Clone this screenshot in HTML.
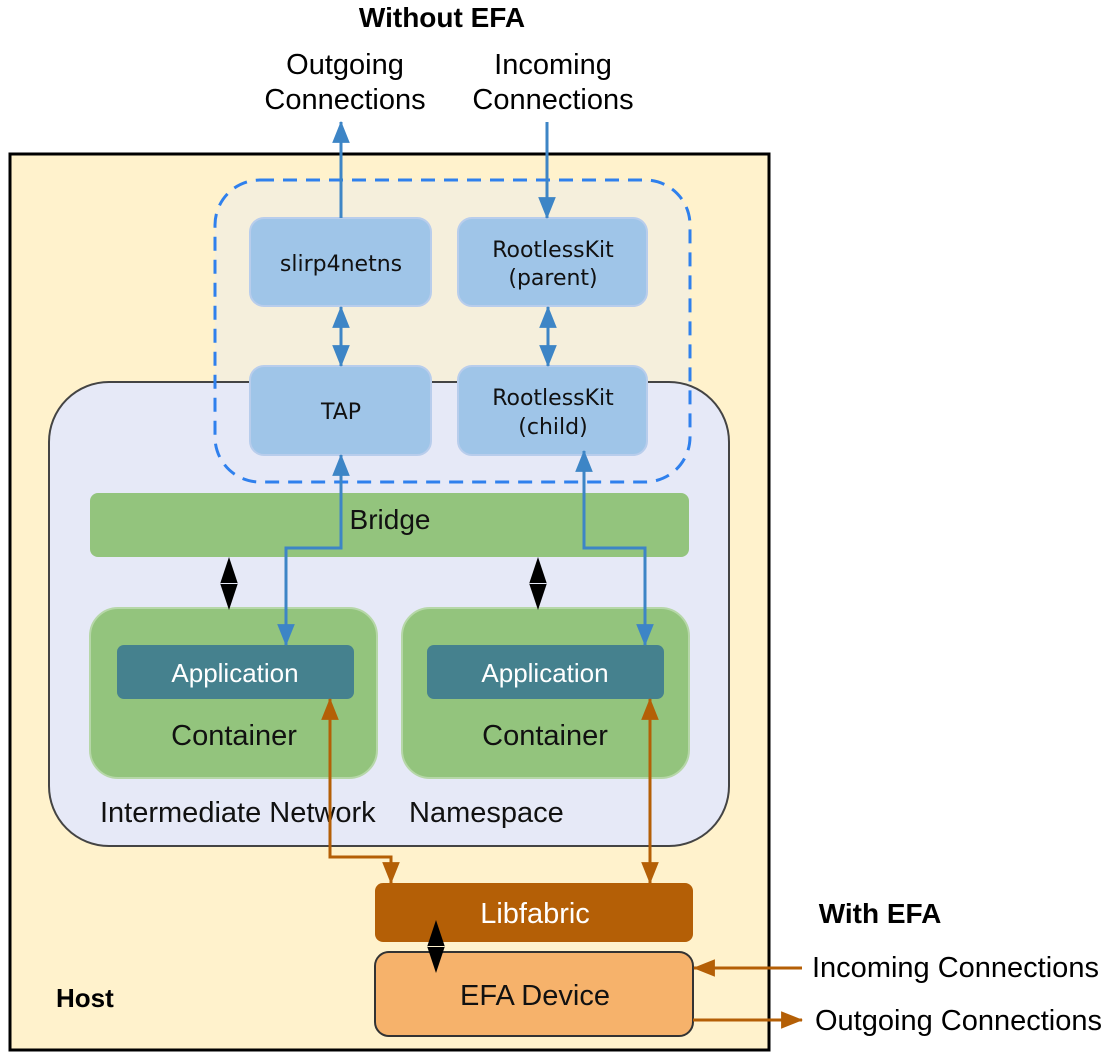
<!DOCTYPE html>
<html><head><meta charset="utf-8"><style>
html,body{margin:0;padding:0;background:#fff}
svg{display:block}
text{font-family:"Liberation Sans",sans-serif}
</style></head><body>
<svg width="1111" height="1059" viewBox="0 0 1111 1059" xmlns="http://www.w3.org/2000/svg">
<defs>
<marker id="ab" viewBox="0 0 10 10" refX="9.5" refY="5" markerWidth="22" markerHeight="22" orient="auto-start-reverse" markerUnits="userSpaceOnUse"><path d="M0,1L10,5L0,9z" fill="#3d85c6"/></marker>
<marker id="ao" viewBox="0 0 10 10" refX="9.5" refY="5" markerWidth="22" markerHeight="22" orient="auto-start-reverse" markerUnits="userSpaceOnUse"><path d="M0,1L10,5L0,9z" fill="#b45f06"/></marker>
</defs>
<rect x="0" y="0" width="1111" height="1059" fill="#fff"/>
<rect x="10" y="154" width="759" height="896" fill="#fff2cc" stroke="#000" stroke-width="3"/>
<rect x="215" y="180" width="475" height="302" rx="45" fill="#f5efdc"/>
<rect x="49" y="382" width="680" height="464" rx="60" fill="#e6e9f7" stroke="#444" stroke-width="2"/>
<rect x="215" y="180" width="475" height="302" rx="45" fill="none" stroke="#2f80ed" stroke-width="3" stroke-dasharray="14,9"/>

<g fill="#9fc5e8" stroke="#b8cdec" stroke-width="2">
<rect x="250" y="218" width="181" height="88" rx="14"/>
<rect x="458" y="218" width="189" height="88" rx="14"/>
<rect x="250" y="366" width="181" height="89" rx="14"/>
<rect x="458" y="366" width="189" height="89" rx="14"/>
</g>
<g font-size="22" text-anchor="middle" fill="#111">
<text x="341" y="271" style="font-family:'DejaVu Sans',sans-serif">slirp4netns</text>
<text x="553" y="257" style="font-family:'DejaVu Sans',sans-serif">RootlessKit</text>
<text x="553" y="285" style="font-family:'DejaVu Sans',sans-serif">(parent)</text>
<text x="341" y="419" style="font-family:'DejaVu Sans',sans-serif">TAP</text>
<text x="553" y="405" style="font-family:'DejaVu Sans',sans-serif">RootlessKit</text>
<text x="553" y="434" style="font-family:'DejaVu Sans',sans-serif">(child)</text>
</g>

<rect x="90" y="493" width="599" height="64" rx="8" fill="#93c47d"/>
<text x="390" y="529" font-size="28" text-anchor="middle" fill="#111">Bridge</text>
<rect x="90" y="608" width="287" height="170" rx="28" fill="#93c47d" stroke="#b6d7a8" stroke-width="2"/>
<rect x="402" y="608" width="287" height="170" rx="28" fill="#93c47d" stroke="#b6d7a8" stroke-width="2"/>
<rect x="117" y="645" width="237" height="54" rx="7" fill="#45818e"/>
<rect x="427" y="645" width="237" height="54" rx="7" fill="#45818e"/>
<text x="235" y="682" font-size="26" text-anchor="middle" fill="#fff">Application</text>
<text x="545" y="682" font-size="26" text-anchor="middle" fill="#fff">Application</text>
<text x="234" y="745" font-size="29" text-anchor="middle" fill="#111">Container</text>
<text x="545" y="745" font-size="29" text-anchor="middle" fill="#111">Container</text>
<text x="100" y="822" font-size="29" fill="#111">Intermediate Network</text>
<text x="409" y="822" font-size="29" fill="#111">Namespace</text>

<rect x="375" y="883" width="318" height="59" rx="8" fill="#b45f06"/>
<text x="535" y="923" font-size="29" text-anchor="middle" fill="#fff">Libfabric</text>
<rect x="375" y="952" width="318" height="84" rx="14" fill="#f6b26b" stroke="#333" stroke-width="2"/>
<text x="535" y="1005" font-size="29" text-anchor="middle" fill="#111">EFA Device</text>

<g stroke="#3d85c6" stroke-width="3" fill="none">
<path d="M341,218 V122" marker-end="url(#ab)"/>
<path d="M547,122 V218" marker-end="url(#ab)"/>
<path d="M341,307 V366" marker-start="url(#ab)" marker-end="url(#ab)"/>
<path d="M548,307 V366" marker-start="url(#ab)" marker-end="url(#ab)"/>
<path d="M286,645 V548 H341 V455" marker-start="url(#ab)" marker-end="url(#ab)"/>
<path d="M645,645 V548 H584 V451" marker-start="url(#ab)" marker-end="url(#ab)"/>
</g>
<g fill="#000">
<path d="M229,557 L238,584 L220,584z M229,610 L238,583 L220,583z"/>
<path d="M538,557 L547,584 L529,584z M538,610 L547,583 L529,583z"/>
<path d="M436,920 L445,947 L427,947z M436,973 L445,946 L427,946z"/>
</g>
<g stroke="#b45f06" stroke-width="3" fill="none">
<path d="M330,699 V857 H391 V883" marker-start="url(#ao)" marker-end="url(#ao)"/>
<path d="M650,699 V883" marker-start="url(#ao)" marker-end="url(#ao)"/>
<path d="M802,968 H694" marker-end="url(#ao)"/>
<path d="M693,1020 H802" marker-end="url(#ao)"/>
</g>

<text x="442" y="27" font-size="28" font-weight="bold" text-anchor="middle" fill="#000">Without EFA</text>
<text x="345" y="74" font-size="29" text-anchor="middle" fill="#000">Outgoing</text>
<text x="345" y="109" font-size="29" text-anchor="middle" fill="#000">Connections</text>
<text x="553" y="74" font-size="29" text-anchor="middle" fill="#000">Incoming</text>
<text x="553" y="109" font-size="29" text-anchor="middle" fill="#000">Connections</text>
<text x="880" y="923" font-size="28" font-weight="bold" text-anchor="middle" fill="#000">With EFA</text>
<text x="812" y="977" font-size="29" fill="#000">Incoming Connections</text>
<text x="815" y="1030" font-size="29" fill="#000">Outgoing Connections</text>
<text x="56" y="1007" font-size="26" font-weight="bold" fill="#000">Host</text>
</svg>
</body></html>
